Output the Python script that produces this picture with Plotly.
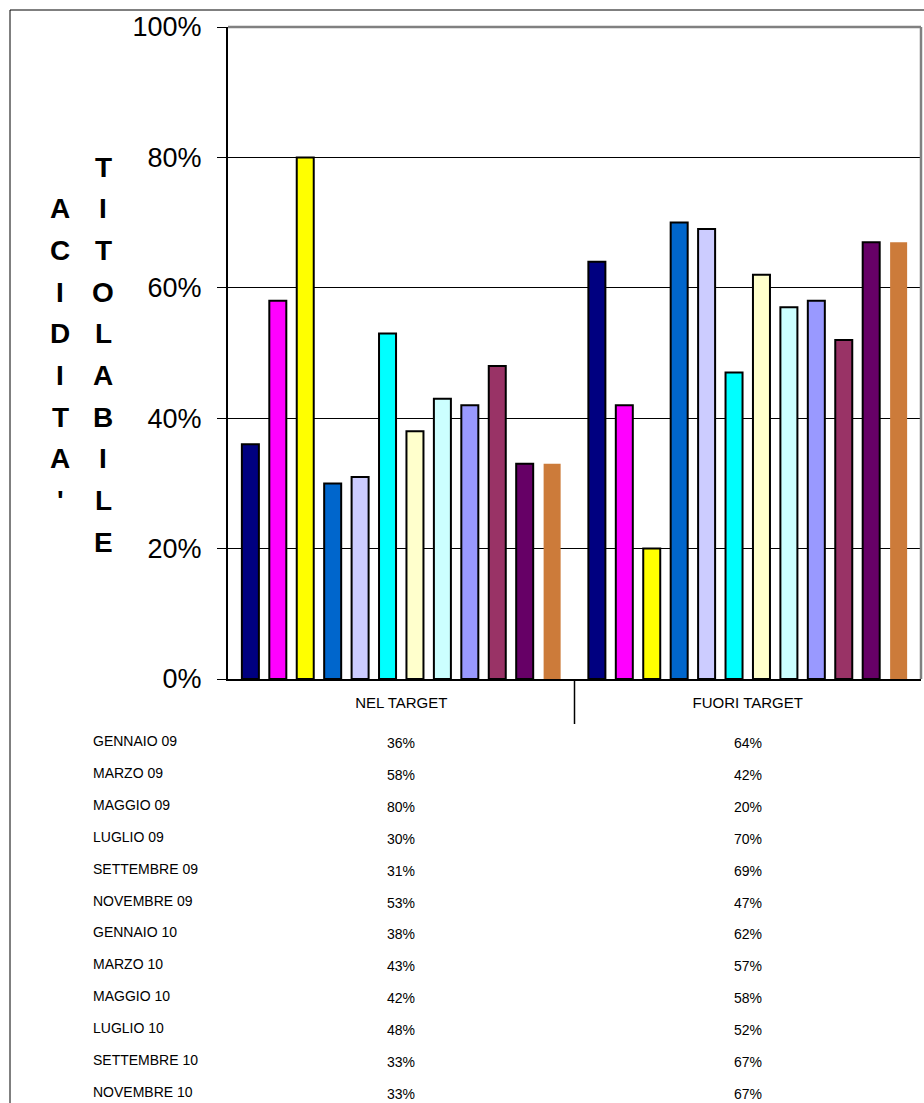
import plotly.graph_objects as go

# Categories on the x axis
categories = ["NEL TARGET", "FUORI TARGET"]

# Survey months (one bar series each)
months = [
    "GENNAIO 09", "MARZO 09", "MAGGIO 09", "LUGLIO 09", "SETTEMBRE 09", "NOVEMBRE 09",
    "GENNAIO 10", "MARZO 10", "MAGGIO 10", "LUGLIO 10", "SETTEMBRE 10", "NOVEMBRE 10",
]

# Percentages per month: in target / out of target
nel_target = [36, 58, 80, 30, 31, 53, 38, 43, 42, 48, 33, 33]
fuori_target = [64, 42, 20, 70, 69, 47, 62, 57, 58, 52, 67, 67]

# Y axis ticks
y_ticks = [0, 0.2, 0.4, 0.6, 0.8, 1.0]
y_tick_labels = ["0%", "20%", "40%", "60%", "80%", "100%"]

# Axis title, written as two vertical columns of letters
title_col1 = "ACIDITA'"
title_col2 = "TITOLABILE"

colors = [
    "#000080", "#FF00FF", "#FFFF00", "#0066CC", "#CCCCFF", "#00FFFF",
    "#FFFFCC", "#CCFFFF", "#9999FF", "#993366", "#660066", "#CC7B3A",
]

FONT = "Liberation Sans, Arial, sans-serif"
W, H = 924, 1103
L, R, T, B = 228, 3, 27, 424
PW, PH = W - L - R, H - T - B


def px_x(x):
    return (x - L) / PW


def px_y(y):
    return (H - B - y) / PH


fig = go.Figure()
for i, m in enumerate(months):
    last = i == len(months) - 1
    fig.add_trace(go.Bar(
        name=m,
        x=categories,
        y=[nel_target[i] / 100, fuori_target[i] / 100],
        marker=dict(color=colors[i],
                    line=dict(color="black", width=0 if last else 2)),
        showlegend=False,
    ))

annotations = []

# Vertical axis title letters
pitch = 41.7
for j, ch in enumerate(title_col2):
    annotations.append(dict(
        x=px_x(103), y=px_y(167 + j * pitch), xref="paper", yref="paper",
        text=ch, showarrow=False, xanchor="center", yanchor="middle",
        font=dict(family=FONT, size=28, color="black", weight="bold"),
    ))
for j, ch in enumerate(title_col1):
    annotations.append(dict(
        x=px_x(60), y=px_y(167 + (j + 1) * pitch), xref="paper", yref="paper",
        text=ch, showarrow=False, xanchor="center", yanchor="middle",
        font=dict(family=FONT, size=28, color="black", weight="bold"),
    ))

# Data table below the chart
row0, row_pitch = 741, 31.9
for i, m in enumerate(months):
    yy = row0 + i * row_pitch
    annotations.append(dict(
        x=px_x(91), y=px_y(yy), xref="paper", yref="paper",
        text=m, showarrow=False, xanchor="left", yanchor="middle",
        font=dict(family=FONT, size=14, color="black"),
    ))
    for cat, vals in zip(categories, (nel_target, fuori_target)):
        annotations.append(dict(
            x=cat, y=px_y(yy + 2), xref="x", yref="paper",
            text=f"{vals[i]}%", showarrow=False, xanchor="center", yanchor="middle",
            font=dict(family=FONT, size=14, color="black"),
        ))

shapes = [
    # plot area frame (gray top and right)
    dict(type="line", xref="paper", yref="paper", x0=0, x1=1, y0=1, y1=1,
         line=dict(color="#808080", width=2.5), layer="above"),
    dict(type="line", xref="paper", yref="paper", x0=1, x1=1, y0=0, y1=1,
         line=dict(color="#808080", width=2.5), layer="above"),
    # separator between the two category columns
    dict(type="line", xref="paper", yref="paper", x0=0.5, x1=0.5,
         y0=0, y1=px_y(724), line=dict(color="black", width=1.5)),
    # outer chart frame
    dict(type="line", xref="paper", yref="paper", x0=px_x(10), x1=px_x(10),
         y0=px_y(10), y1=px_y(H + 10), line=dict(color="black", width=1)),
    dict(type="line", xref="paper", yref="paper", x0=px_x(10), x1=px_x(W + 10),
         y0=px_y(10), y1=px_y(10), line=dict(color="black", width=1)),
]

fig.update_layout(
    width=W, height=H,
    margin=dict(l=L, r=R, t=T, b=B, pad=0),
    paper_bgcolor="white", plot_bgcolor="white",
    barmode="group", bargap=0.05, bargroupgap=0.38,
    font=dict(family=FONT, color="black"),
    annotations=annotations, shapes=shapes,
)
fig.update_xaxes(
    showline=True, linecolor="black", linewidth=2,
    ticks="", tickfont=dict(family=FONT, size=15, color="black"),
    ticklabelstandoff=9, showgrid=False,
)
fig.update_yaxes(
    range=[0, 1], tickvals=y_ticks, ticktext=y_tick_labels,
    showline=True, linecolor="black", linewidth=2,
    ticks="outside", ticklen=9, tickwidth=1, tickcolor="black",
    tickfont=dict(family=FONT, size=27, color="black"),
    ticklabelstandoff=10,
    showgrid=True, gridcolor="black", gridwidth=1, zeroline=False,
)

fig.write_html("out.html")
